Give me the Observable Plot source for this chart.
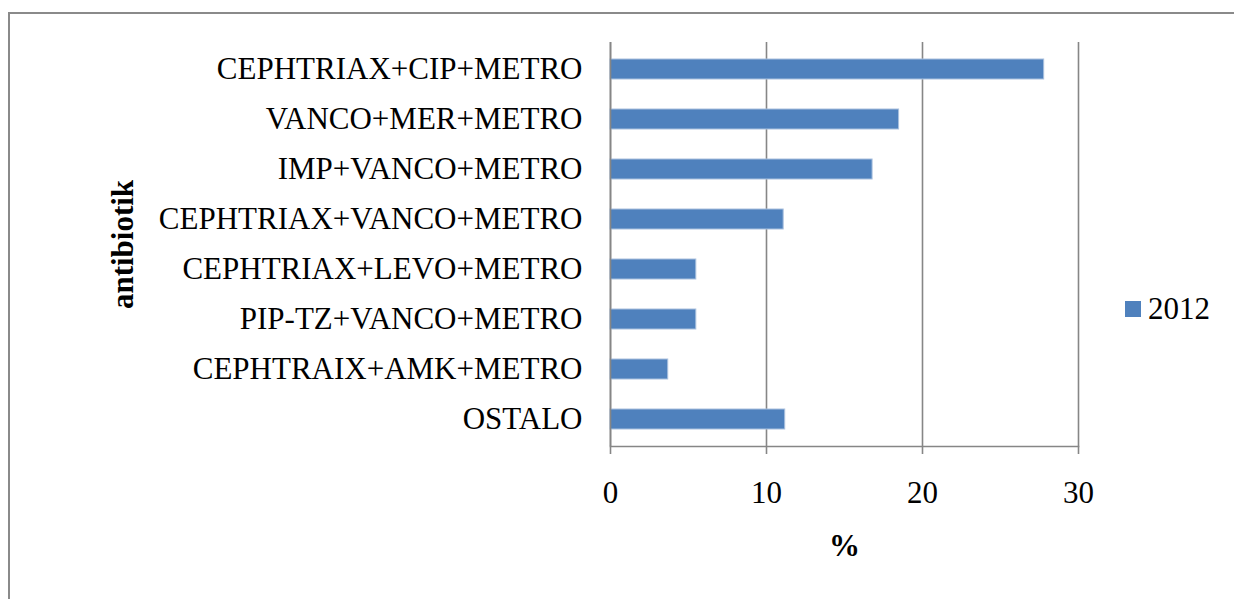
<!DOCTYPE html>
<html>
<head>
<meta charset="utf-8">
<script src="https://cdn.jsdelivr.net/npm/d3@7"></script>
<script src="https://cdn.jsdelivr.net/npm/@observablehq/plot@0.6"></script>
<style>
  html, body { margin: 0; padding: 0; background: #fff; }
  #wrap { position: relative; width: 1234px; height: 599px; overflow: hidden; }
  #border { position: absolute; left: 8px; top: 12px; width: 1240px; height: 600px;
            border-left: 2px solid #8a8a8a; border-top: 2px solid #8a8a8a; box-sizing: border-box; }
  #legend { position: absolute; left: 1125px; top: 291px; font-family: "Liberation Serif", "Times New Roman", serif;
            font-size: 31px; line-height: 36px; color: #000; display: flex; align-items: center; }
  #legend span.sw { display: inline-block; width: 16px; height: 16px; background: #4f81bd; margin-right: 7px; }
  #chart { position: absolute; left: 0; top: 0; }
</style>
</head>
<body>
<div id="wrap">
  <div id="border"></div>
  <div id="chart"></div>
  <div id="legend"><span class="sw"></span>2012</div>
</div>
<script>
// Antibiotic combinations (top to bottom) and their share in 2012, in %
const categories = [
  "CEPHTRIAX+CIP+METRO",
  "VANCO+MER+METRO",
  "IMP+VANCO+METRO",
  "CEPHTRIAX+VANCO+METRO",
  "CEPHTRIAX+LEVO+METRO",
  "PIP-TZ+VANCO+METRO",
  "CEPHTRAIX+AMK+METRO",
  "OSTALO"
];
const values2012 = [27.8, 18.5, 16.8, 11.1, 5.5, 5.5, 3.7, 11.2];
const xTicks = [0, 10, 20, 30];

const data = categories.map((c, i) => ({antibiotik: c, pct: values2012[i]}));

const chart = Plot.plot({
  width: 1234,
  height: 599,
  marginLeft: 610,
  marginRight: 156,
  marginTop: 42,
  marginBottom: 153,
  style: {fontFamily: "'Liberation Serif', 'Times New Roman', serif", fontSize: "31px", color: "#000", background: "transparent"},
  x: {domain: [0, 30]},
  y: {domain: categories, paddingInner: 0.6, paddingOuter: 0.3},
  marks: [
    Plot.gridX(xTicks, {stroke: "#868686", strokeOpacity: 1, strokeWidth: 1.6}),
    Plot.barX(data, {x: "pct", y: "antibiotik", fill: "#4f81bd", stroke: "#a9c0de", strokeWidth: 1}),
    Plot.ruleX([0], {stroke: "#868686", strokeWidth: 1.6}),
    Plot.frame({anchor: "bottom", stroke: "#868686", strokeWidth: 1.6}),
    Plot.axisX(xTicks, {tickSize: 8, tickPadding: 26, fontSize: 31, stroke: "#868686", strokeWidth: 1.6,
      label: "%", labelAnchor: "center", labelArrow: "none", labelOffset: 109}),
    Plot.axisY({tickSize: 0, tickPadding: 28, fontSize: 31, label: "antibiotik", labelAnchor: "center",
      labelArrow: "none", labelOffset: 500})
  ]
});
document.getElementById("chart").appendChild(chart);

// Axis titles are bold
d3.select(chart).selectAll('g[aria-label="x-axis label"], g[aria-label="y-axis label"]')
  .attr("font-weight", "bold");
</script>
</body>
</html>
